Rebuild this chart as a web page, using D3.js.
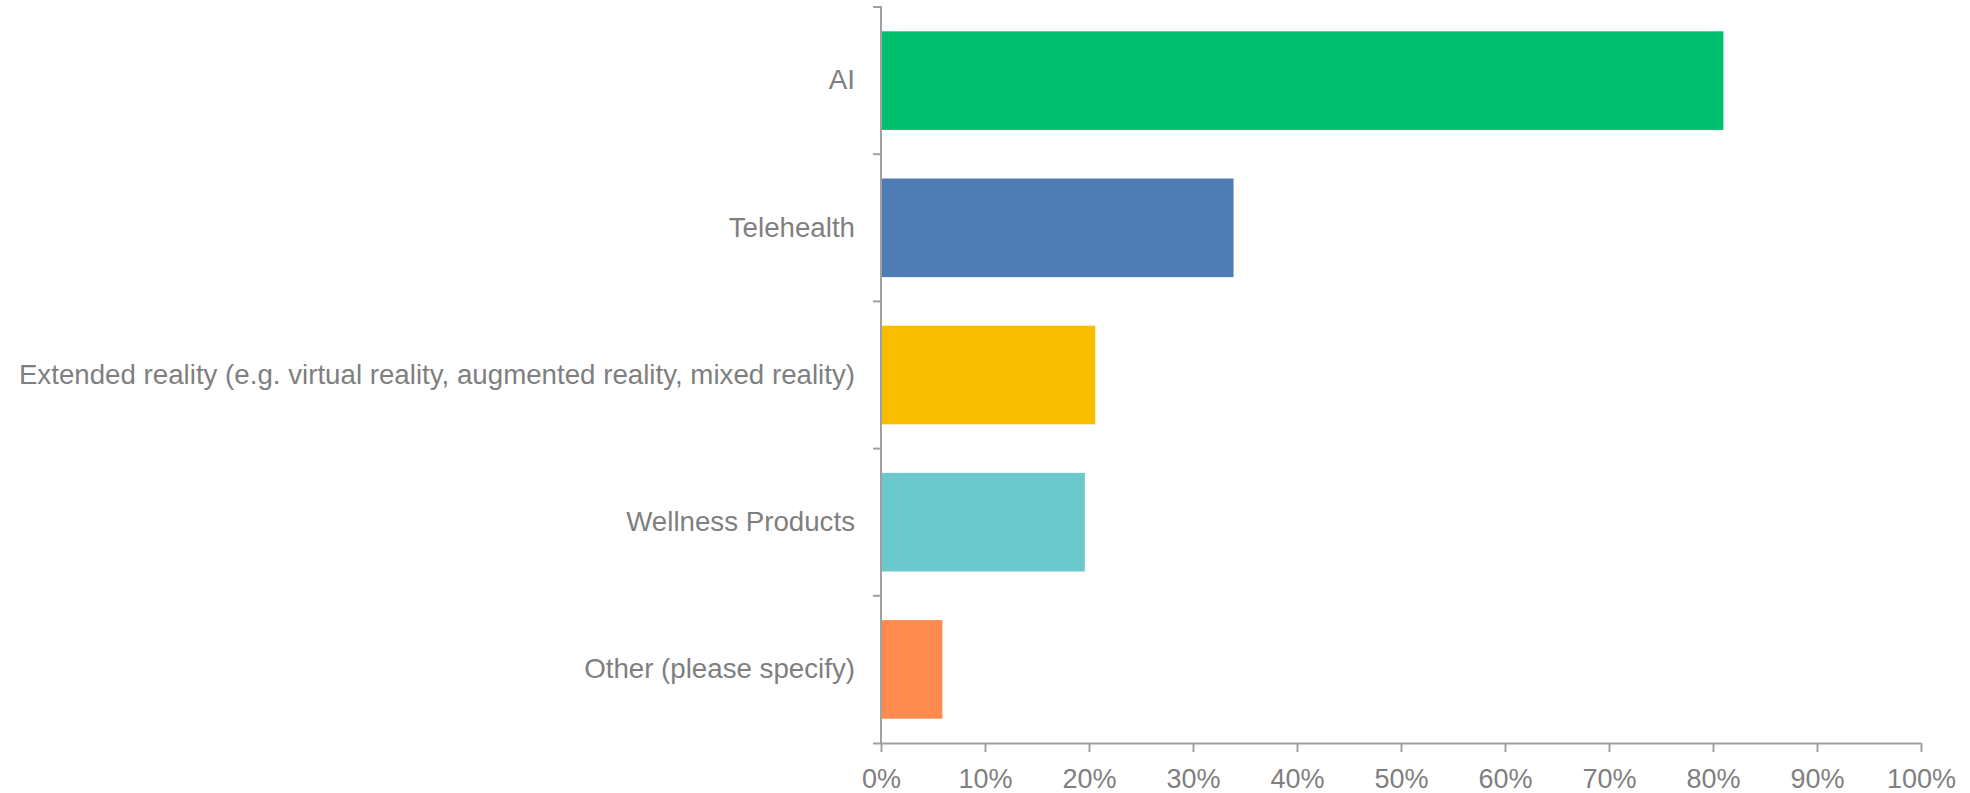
<!DOCTYPE html>
<html><head><meta charset="utf-8">
<script src="https://cdn.jsdelivr.net/npm/d3@7"></script>
<style>body{margin:0;background:#fff}svg{display:block}</style>
</head><body>
<svg id="c" width="1970" height="793"></svg>
<script>
const categories = ["AI","Telehealth","Extended reality (e.g. virtual reality, augmented reality, mixed reality)","Wellness Products","Other (please specify)"];
const values = [81.0, 33.9, 20.6, 19.6, 5.9];
const colors = ["#00bf6f","#507cb6","#f9be00","#6bc8cd","#ff8b4f"];
const xTicks = [0,10,20,30,40,50,60,70,80,90,100];

(function(){
const svg = d3.select("#c");
const L = 881, R = 1921, T = 7, B = 743;
const x = d3.scaleLinear().domain([0,100]).range([L,R]);
const y = d3.scaleBand().domain(categories).range([T,B]).paddingInner(0.33).paddingOuter(0.165);
const axisColor = "#a0a0a0", textColor = "#7f7f7f";
const font = "'Liberation Sans', Arial, sans-serif";

svg.selectAll("rect.bar").data(categories).join("rect").attr("class","bar")
  .attr("x", x(0)).attr("y", d=>y(d)).attr("height", y.bandwidth())
  .attr("width", (d,i)=>x(values[i])-x(0)).attr("fill",(d,i)=>colors[i]);

// x axis
const xa = svg.append("g").attr("transform",`translate(0,${B})`)
  .call(d3.axisBottom(x).tickValues(xTicks).tickFormat(d=>d+"%").tickSize(9).tickSizeOuter(0));
xa.select(".domain").attr("stroke",axisColor).attr("stroke-width",2).attr("d",`M${L-8},0.5H${R}`);
xa.selectAll(".tick line").attr("stroke",axisColor).attr("stroke-width",2);
xa.selectAll(".tick text").attr("fill",textColor).attr("font-family",font).attr("font-size",27).attr("dy","0").attr("y",45);

// y axis
const ya = svg.append("g").attr("transform",`translate(${L},0)`)
  .call(d3.axisLeft(y).tickSize(0).tickPadding(26));
ya.select(".domain").attr("stroke",axisColor).attr("stroke-width",2).attr("d",`M-8,${T}H0V${B}`);
ya.selectAll(".tick text").attr("fill",textColor).attr("font-family",font).attr("font-size",27.7);
const step = y.step();
const bounds = categories.map(c=>y(c)-step*y.paddingInner()/2).slice(1);
ya.selectAll("line.bound").data(bounds).join("line").attr("class","bound")
  .attr("x1",-8).attr("x2",0).attr("y1",d=>d).attr("y2",d=>d).attr("stroke",axisColor).attr("stroke-width",2);
})();
</script>
</body></html>
